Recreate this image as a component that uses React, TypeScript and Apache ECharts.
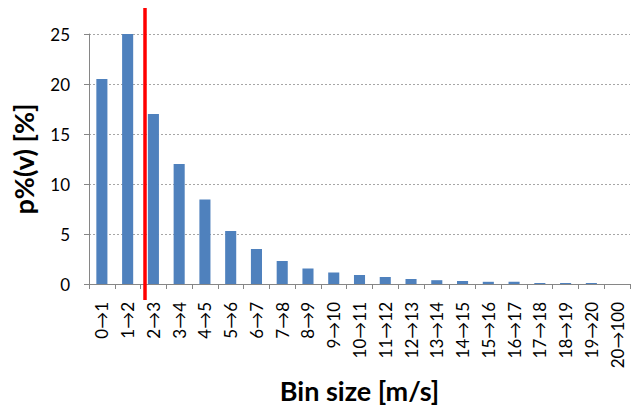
import React, { useEffect, useRef } from "react";
import * as echarts from "echarts";

const categories = [
  "0→1", "1→2", "2→3", "3→4", "4→5", "5→6", "6→7", "7→8", "8→9", "9→10",
  "10→11", "11→12", "12→13", "13→14", "14→15", "15→16", "16→17", "17→18",
  "18→19", "19→20", "20→100",
];
const values = [
  20.5, 25, 17, 12, 8.45, 5.3, 3.5, 2.3, 1.55, 1.15, 0.9, 0.7, 0.5, 0.38,
  0.3, 0.22, 0.22, 0.1, 0.1, 0.1, 0,
];
const yTicks = [0, 5, 10, 15, 20, 25];
const yAxisName = "p%(v) [%]";
const xAxisName = "Bin size [m/s]";

const FONT = "Lato, 'Noto Sans', sans-serif";

export default function App() {
  const ref = useRef<HTMLDivElement>(null);
  useEffect(() => {
    document.body.style.margin = "0";
    const chart = echarts.init(ref.current!, undefined, { renderer: "svg" });
    chart.setOption({
      animation: false,
      grid: {
        left: 89,
        right: 2,
        top: 34,
        bottom: 121,
        containLabel: false,
        outerBoundsMode: "none",
      },
      xAxis: {
        type: "category",
        data: categories,
        boundaryGap: true,
        name: xAxisName,
        nameLocation: "middle",
        nameGap: 93,
        nameTextStyle: {
          fontFamily: FONT,
          fontSize: 27,
          lineHeight: 26,
          fontWeight: "bold",
          color: "#000",
        },
        axisLine: { lineStyle: { color: "#868686", width: 1 } },
        axisTick: { show: true, alignWithLabel: false, length: 5, lineStyle: { color: "#868686" } },
        axisLabel: {
          rotate: 90,
          interval: 0,
          margin: 18,
          fontFamily: FONT,
          fontSize: 17,
          color: "#000",
        },
        splitLine: { show: false },
      },
      yAxis: {
        type: "value",
        min: 0,
        max: yTicks[yTicks.length - 1],
        interval: 5,
        name: yAxisName,
        nameLocation: "middle",
        nameGap: 52,
        nameTextStyle: { fontFamily: FONT, fontSize: 27, fontWeight: "bold", color: "#000" },
        axisLine: { show: true, lineStyle: { color: "#868686", width: 1 } },
        axisTick: { show: true, length: 5, lineStyle: { color: "#868686" } },
        axisLabel: { fontFamily: FONT, fontSize: 17, color: "#000", margin: 19 },
        splitLine: { show: true, lineStyle: { color: "#A6A6A6", type: [2, 2], width: 1 } },
      },
      series: [
        {
          type: "bar",
          data: values,
          barWidth: "43%",
          itemStyle: { color: "#4F81BD" },
        },
      ],
      graphic: [
        {
          type: "line",
          shape: { x1: 145, y1: 8, x2: 145, y2: 300 },
          style: { stroke: "#FF0000", lineWidth: 3.5 },
          z: 100,
        },
      ],
    });
    return () => chart.dispose();
  }, []);
  return <div ref={ref} style={{ width: 632, height: 405 }} />;
}
